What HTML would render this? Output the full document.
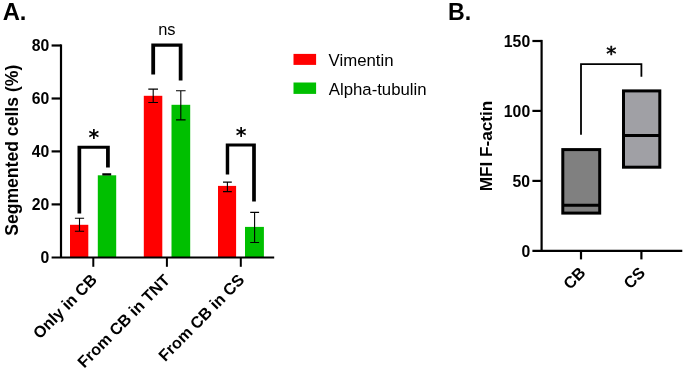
<!DOCTYPE html>
<html lang="en"><head><meta charset="utf-8"><title>Figure</title>
<style>html,body{margin:0;padding:0;background:#fff}svg{display:block;will-change:transform}text{font-family:"Liberation Sans",sans-serif;fill:#000}.b{font-weight:bold}.ast{font-family:"DejaVu Sans","Liberation Sans",sans-serif;font-weight:bold}</style></head><body>
<svg width="685" height="370" viewBox="0 0 685 370">
<rect width="685" height="370" fill="#fff"/>
<text class="b" x="2.7" y="20.3" font-size="23.8">A.</text>
<text class="b" x="448.0" y="20.3" font-size="23.2">B.</text>
<rect x="70.0" y="224.8" width="18.3" height="32.6" fill="#ff0000"/>
<rect x="97.8" y="175.3" width="18.4" height="82.1" fill="#00bf00"/>
<rect x="143.8" y="95.8" width="18.5" height="161.6" fill="#ff0000"/>
<rect x="171.5" y="104.8" width="18.7" height="152.6" fill="#00bf00"/>
<rect x="218.0" y="185.9" width="18.1" height="71.5" fill="#ff0000"/>
<rect x="245.0" y="226.9" width="18.9" height="30.5" fill="#00bf00"/>
<path d="M74.9 218.3H84.1M74.9 231.3H84.1M79.5 218.85V230.75" stroke="#000" stroke-width="1.1" fill="none"/>
<path d="M102.3 173.9H111.2M102.3 174.9H111.2M106.8 174.45V174.35" stroke="#000" stroke-width="1.1" fill="none"/>
<path d="M148.3 89.1H158.0M148.3 102.5H158.0M153.2 89.65V101.95" stroke="#000" stroke-width="1.1" fill="none"/>
<path d="M176.0 90.7H185.6M176.0 119.9H185.6M180.8 91.20V119.35" stroke="#000" stroke-width="1.1" fill="none"/>
<path d="M223.0 182.1H231.8M223.0 191.6H231.8M227.4 182.65V191.05" stroke="#000" stroke-width="1.1" fill="none"/>
<path d="M250.2 212.4H259.1M250.2 242.5H259.1M254.6 212.95V241.95" stroke="#000" stroke-width="1.1" fill="none"/>
<path d="M61.0 44.4V257.4" stroke="#000" stroke-width="2.2" fill="none"/>
<path d="M51.6 257.50H274.2" stroke="#000" stroke-width="2.0" fill="none"/>
<path d="M51.6 204.4H61.0" stroke="#000" stroke-width="2.2" fill="none"/>
<path d="M51.6 151.4H61.0" stroke="#000" stroke-width="2.2" fill="none"/>
<path d="M51.6 98.5H61.0" stroke="#000" stroke-width="2.2" fill="none"/>
<path d="M51.6 45.5H61.0" stroke="#000" stroke-width="2.2" fill="none"/>
<path d="M93.3 257.4V266.8" stroke="#000" stroke-width="2.0" fill="none"/>
<path d="M166.9 257.4V266.8" stroke="#000" stroke-width="2.0" fill="none"/>
<path d="M240.8 257.4V266.8" stroke="#000" stroke-width="2.0" fill="none"/>
<text class="b" x="49.3" y="263.0" font-size="15.75" text-anchor="end">0</text>
<text class="b" x="49.3" y="210.1" font-size="15.75" text-anchor="end">20</text>
<text class="b" x="49.3" y="157.1" font-size="15.75" text-anchor="end">40</text>
<text class="b" x="49.3" y="104.1" font-size="15.75" text-anchor="end">60</text>
<text class="b" x="49.3" y="51.1" font-size="15.75" text-anchor="end">80</text>
<text class="b" transform="translate(18.3,150.3) rotate(-90)" font-size="17.6" text-anchor="middle">Segmented cells (%)</text>
<text class="b" transform="translate(97.9,280.8) rotate(-45.35)" font-size="16.2" text-anchor="end">Only in CB</text>
<text class="b" transform="translate(170.9,281.2) rotate(-45.35)" font-size="16.2" text-anchor="end">From CB in TNT</text>
<text class="b" transform="translate(245.4,280.9) rotate(-45.35)" font-size="16.2" text-anchor="end">From CB in CS</text>
<path d="M77.50 213.40V145.65H109.80V167.60H106.05V148.75H81.20V213.40Z" fill="#000"/>
<path d="M151.30 74.50V43.60H182.50V80.60H178.75V46.75H155.10V74.50Z" fill="#000"/>
<path d="M225.75 174.60V143.50H255.85V201.60H252.15V146.60H229.20V174.60Z" fill="#000"/>
<text class="ast" x="93.8" y="144.6" font-size="20.5" text-anchor="middle">*</text>
<text class="ast" x="241.1" y="142.6" font-size="20.5" text-anchor="middle">*</text>
<text x="166.9" y="34.6" font-size="16.45" text-anchor="middle">ns</text>
<rect x="293.5" y="53.9" width="22.6" height="11.0" fill="#ff0000"/>
<rect x="293.5" y="82.5" width="22.6" height="11.4" fill="#00bf00"/>
<text x="328.6" y="65.9" font-size="16.8">Vimentin</text>
<text x="328.8" y="94.8" font-size="16.75">Alpha-tubulin</text>
<rect x="562.8" y="149.6" width="36.9" height="63.5" fill="#808080" stroke="#000" stroke-width="3.0"/>
<path d="M562.8 205.3H599.6" stroke="#000" stroke-width="3.0" fill="none"/>
<rect x="623.5" y="90.9" width="36.3" height="76.3" fill="#a0a0a5" stroke="#000" stroke-width="3.0"/>
<path d="M623.5 135.6H659.8" stroke="#000" stroke-width="3.0" fill="none"/>
<path d="M541.6 39.9V250.9" stroke="#000" stroke-width="2.2" fill="none"/>
<path d="M532.4 250.9H682.3" stroke="#000" stroke-width="2.2" fill="none"/>
<path d="M532.4 180.9H541.6" stroke="#000" stroke-width="2.2" fill="none"/>
<path d="M532.4 110.9H541.6" stroke="#000" stroke-width="2.2" fill="none"/>
<path d="M532.4 41.0H541.6" stroke="#000" stroke-width="2.2" fill="none"/>
<path d="M581.0 250.9V259.4" stroke="#000" stroke-width="2.2" fill="none"/>
<path d="M641.4 250.9V259.4" stroke="#000" stroke-width="2.2" fill="none"/>
<text class="b" x="530.15" y="256.8" font-size="15.75" text-anchor="end">0</text>
<text class="b" x="530.15" y="186.8" font-size="15.75" text-anchor="end">50</text>
<text class="b" x="530.15" y="116.8" font-size="15.75" text-anchor="end">100</text>
<text class="b" x="530.15" y="46.8" font-size="15.75" text-anchor="end">150</text>
<text class="b" transform="translate(491.9,146) rotate(-90)" font-size="17.2" text-anchor="middle">MFI F-actin</text>
<text class="b" transform="translate(586.5,273.8) rotate(-45)" font-size="16.2" text-anchor="end">CB</text>
<text class="b" transform="translate(646.2,273.8) rotate(-45)" font-size="16.2" text-anchor="end">CS</text>
<path d="M581.0 134.8V64.1H641.4V76.8" stroke="#000" stroke-width="1.8" fill="none" stroke-linejoin="miter"/>
<text class="ast" x="611.4" y="60.2" font-size="20.3" text-anchor="middle" style="font-weight:normal" stroke="#000" stroke-width="0.55">*</text>
</svg></body></html>
